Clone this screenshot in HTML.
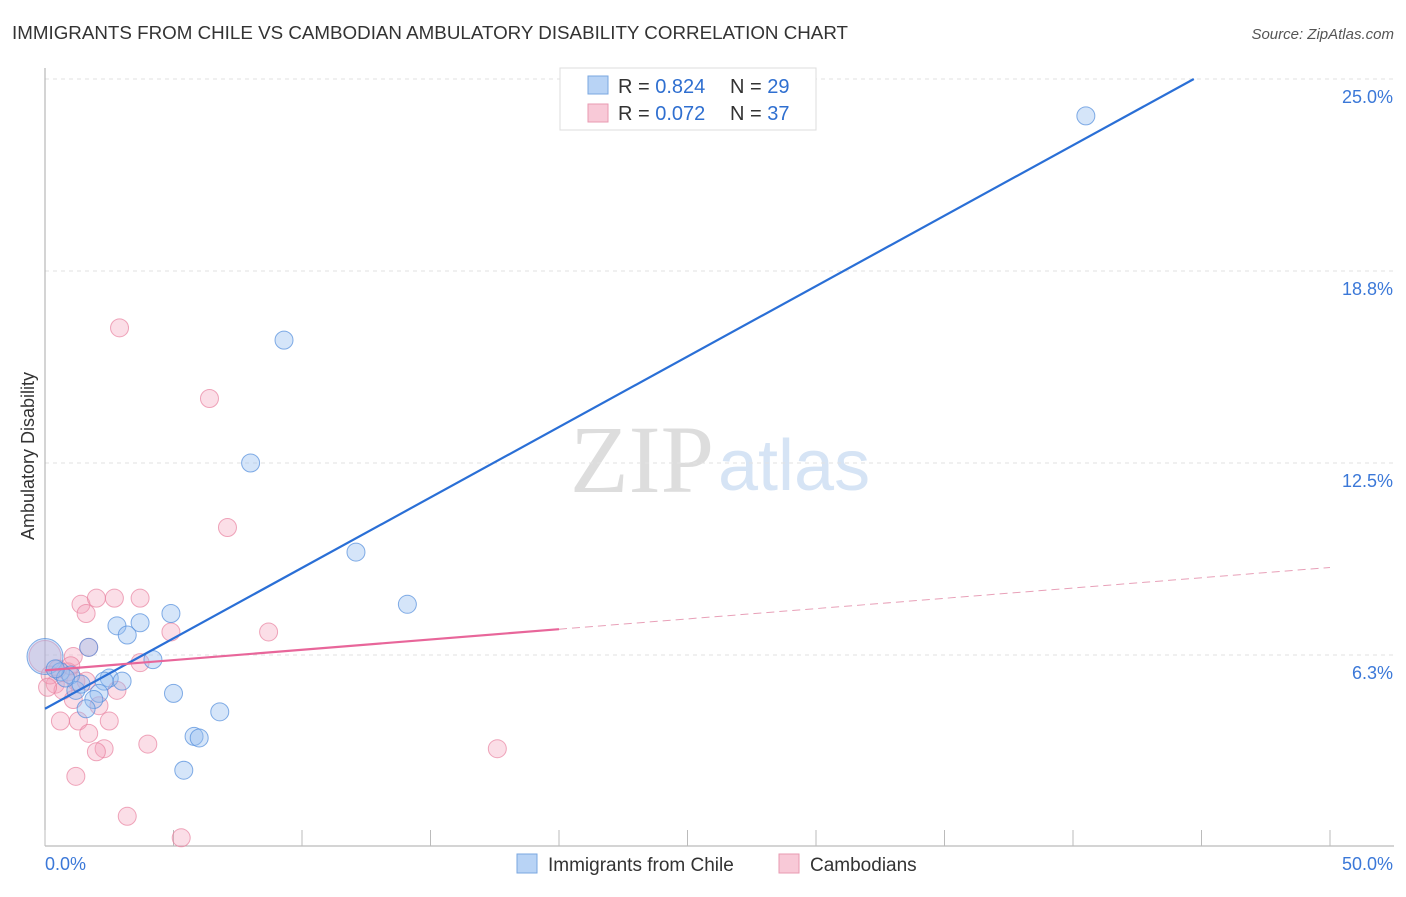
<!DOCTYPE html>
<html><head><meta charset="utf-8"><style>
body{margin:0;background:#fff;font-family:"Liberation Sans",sans-serif}
svg text{font-family:"Liberation Sans",sans-serif}
</style></head><body>
<svg id="c" width="1406" height="892">
<text x="12" y="39" font-size="18" fill="#333" textLength="836" lengthAdjust="spacingAndGlyphs">IMMIGRANTS FROM CHILE VS CAMBODIAN AMBULATORY DISABILITY CORRELATION CHART</text>
<text x="1394" y="39" font-size="15" fill="#555" font-style="italic" text-anchor="end">Source: ZipAtlas.com</text>
<text x="714" y="492" font-size="96" fill="#ddd" text-anchor="end" font-family="Liberation Serif" style="font-family:'Liberation Serif',serif">ZIP</text>
<text x="718" y="490" font-size="72" fill="#d6e4f5">atlas</text>
<text transform="translate(34,456) rotate(-90)" font-size="18" fill="#333" text-anchor="middle">Ambulatory Disability</text>
<g id="grid"></g><g id="pts"></g><g id="lines"></g>
<g>
<rect x="560" y="68" width="256" height="62" fill="#fff" stroke="#ddd"/>
<rect x="588" y="76" width="20" height="18" fill="#b8d3f5" stroke="#7aa7e0"/>
<rect x="588" y="104" width="20" height="18" fill="#f8c9d7" stroke="#e89ab2"/>
<text x="618" y="93" font-size="20" fill="#333">R = <tspan fill="#2f6fd0">0.824</tspan></text>
<text x="730" y="93" font-size="20" fill="#333">N = <tspan fill="#2f6fd0">29</tspan></text>
<text x="618" y="120" font-size="20" fill="#333">R = <tspan fill="#2f6fd0">0.072</tspan></text>
<text x="730" y="120" font-size="20" fill="#333">N = <tspan fill="#2f6fd0">37</tspan></text>
</g>
<g>
<rect x="517" y="854" width="20" height="19" fill="#b8d3f5" stroke="#7aa7e0"/>
<text x="548" y="871" font-size="19" fill="#333">Immigrants from Chile</text>
<rect x="779" y="854" width="20" height="19" fill="#f8c9d7" stroke="#e89ab2"/>
<text x="810" y="871" font-size="19" fill="#333">Cambodians</text>
</g>
</svg>
<script>
const yTicks=[6.25,12.5,18.75,25];
const yTickLabels=["6.3%","12.5%","18.8%","25.0%"];
const xTickLabels=["0.0%","50.0%"];
const blueX=[40.5,9.3,8.0,12.1,14.1,4.9,3.7,2.8,3.2,1.7,4.2,0,0.6,1.0,2.5,2.3,3.0,2.1,1.2,1.9,1.6,5.0,6.8,5.8,6.0,5.4,0.8,0.4,1.4];
const blueY=[23.8,16.5,12.5,9.6,7.9,7.6,7.3,7.2,6.9,6.5,6.1,6.2,5.7,5.6,5.5,5.4,5.4,5.0,5.1,4.8,4.5,5.0,4.4,3.6,3.55,2.5,5.5,5.8,5.3];
const pinkX=[2.9,6.4,7.1,1.4,2.0,2.7,3.7,1.6,8.7,4.9,1.7,1.1,0,0.5,0.9,1.2,0.4,0.7,1.6,0.2,1.1,0.6,1.3,2.5,1.7,2.3,2.0,4.0,17.6,1.2,3.2,5.3,2.1,2.8,0.1,1.0,3.7];
const pinkY=[16.9,14.6,10.4,7.9,8.1,8.1,8.1,7.6,7.0,7.0,6.5,6.2,6.2,5.8,5.7,5.4,5.3,5.1,5.4,5.6,4.8,4.1,4.1,4.1,3.7,3.2,3.1,3.35,3.2,2.3,1.0,0.3,4.6,5.1,5.2,5.9,6.0];
const blueFit=[4.5,0.4586];
const pinkFit=[5.75,0.067];
const X=v=>45+v*25.7, Y=v=>847-v*30.72;
const NS="http://www.w3.org/2000/svg";
function mk(p,t,a){const e=document.createElementNS(NS,t);for(const k in a)e.setAttribute(k,a[k]);p.appendChild(e);return e;}
const g=document.getElementById('grid');
yTicks.forEach((t,i)=>{
 const l=mk(g,'line',{x1:45,x2:1394,y1:Y(t),y2:Y(t),stroke:'#e2e2e2','stroke-dasharray':'4,4'});
 
 
 const tx=mk(g,'text',{x:1393,y:Y(t)+24,'font-size':18,fill:'#3b78d8','text-anchor':'end'});tx.textContent=yTickLabels[i];
 
 
});
const ax=mk(g,'line',{x1:45,x2:45,y1:68,y2:846,stroke:'#aaa'});


const bx=mk(g,'line',{x1:45,x2:1394,y1:846,y2:846,stroke:'#aaa'});


for(let i=0;i<=10;i++){const t=mk(g,'line',{x1:X(i*5),x2:X(i*5),y1:830,y2:846,stroke:'#bbb'});
 
 }
[[0,'start',45],[50,'end',1393]].forEach((d,i)=>{const t=mk(g,'text',{x:d[2],y:870,'font-size':18,fill:'#3b78d8','text-anchor':d[1]});t.textContent=xTickLabels[i];
 
 });
const p=document.getElementById('pts');
pinkX.forEach((x,i)=>{const c=mk(p,'circle',{cx:X(x),cy:Y(pinkY[i]),r:x===0?16:9,fill:'rgba(244,160,185,0.35)',stroke:'rgba(232,130,160,0.7)'});
 
 });
blueX.forEach((x,i)=>{const c=mk(p,'circle',{cx:X(x),cy:Y(blueY[i]),r:x===0?18:9,fill:'rgba(150,190,240,0.4)',stroke:'rgba(80,140,220,0.7)'});
 
 });
const L=document.getElementById('lines');
const xe=(25-blueFit[0])/blueFit[1];
const bl=mk(L,'line',{x1:X(0),y1:Y(blueFit[0]),x2:X(xe),y2:Y(25),stroke:'#2a6fd6','stroke-width':2.2});


const pl=mk(L,'line',{x1:X(0),y1:Y(pinkFit[0]),x2:X(20),y2:Y(pinkFit[0]+20*pinkFit[1]),stroke:'#e8669a','stroke-width':2.2});


const pd=mk(L,'line',{x1:X(20),y1:Y(pinkFit[0]+20*pinkFit[1]),x2:X(50),y2:Y(pinkFit[0]+50*pinkFit[1]),stroke:'#e8a0b8','stroke-width':1,'stroke-dasharray':'8,5'});


</script>
</body></html>
